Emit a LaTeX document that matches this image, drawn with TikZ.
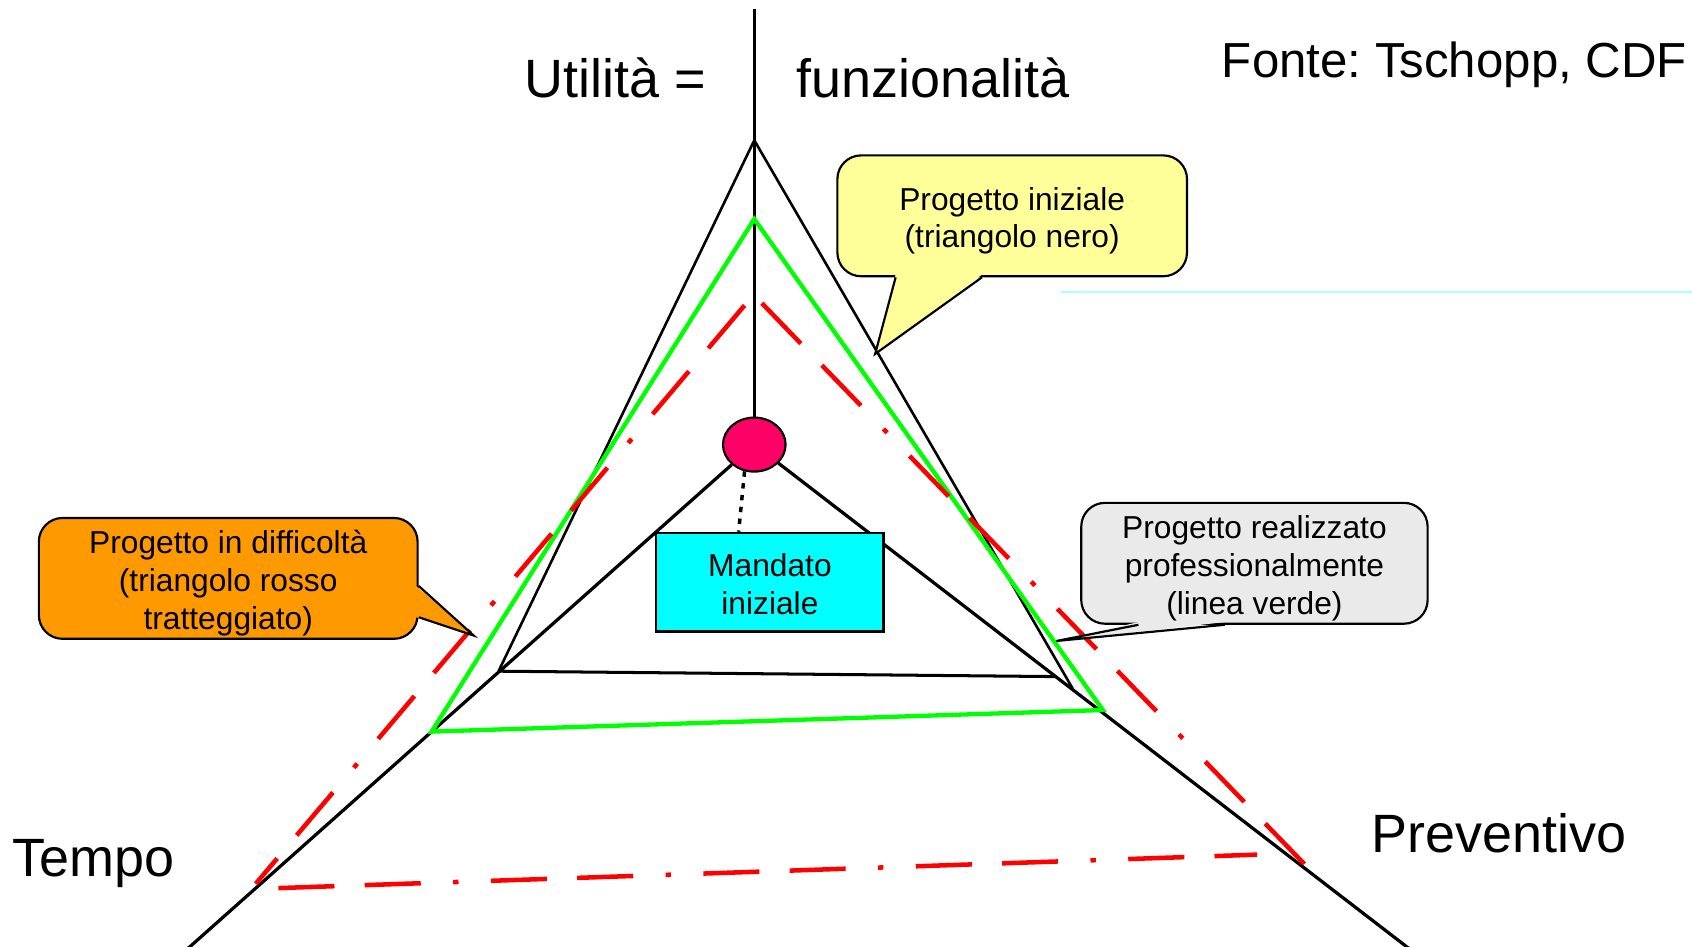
\documentclass[tikz,border=0pt]{standalone}
\usepackage{fontspec}
\setmainfont{Liberation Sans}
\usetikzlibrary{shapes.geometric,calc}
\definecolor{cyel}{RGB}{255,255,153}
\definecolor{corange}{RGB}{255,153,0}
\definecolor{cgrey}{RGB}{234,234,234}
\definecolor{ccyan}{RGB}{0,255,255}
\definecolor{cpink}{RGB}{255,0,102}
\definecolor{cgreen}{RGB}{0,255,0}
\definecolor{cred}{RGB}{255,0,0}
\definecolor{cfaint}{RGB}{170,255,255}
\newcommand{\mystrut}{\rule{0pt}{15.2pt}}
\newcommand{\mystrutb}{\rule{0pt}{12.6pt}}
\tikzset{
  axisline/.style={black, line width=1.5pt},
  blacktri/.style={black, line width=1.2pt},
  greentri/.style={cgreen, line width=2pt, line join=miter},
  redtri/.style={cred, line width=2.1pt, dash pattern=on 26pt off 14pt on 26pt off 15pt on 2.5pt off 15pt},
  bigtext/.style={inner sep=0pt, anchor=base west, font=\fontsize{25}{29}\selectfont},
  callbox/.style={draw=black, line width=1pt, rounded corners=11pt, align=center, inner sep=0pt,
    minimum height=56pt, font=\fontsize{14.7}{17.5}\selectfont},
  tailedge/.style={draw=black, line width=1pt, line join=miter},
  dotline/.style={black, line width=1.6pt, dash pattern=on 2.5pt off 3pt}
}
\frenchspacing
\begin{document}
\begin{tikzpicture}[x=0.5pt,y=-0.5pt]
\useasboundingbox (0,0) rectangle (1568,877);
\fill[white] (0,0) rectangle (1568,877);

% faint line
\draw[cfaint, line width=0.6pt] (983,270.5) -- (1568,270.5);

% centre (origin) marker
\node[ellipse, draw=black, line width=1pt, fill=cpink, minimum width=29pt, minimum height=25pt, inner sep=0pt] (circ) at (699,412) {};

% axes
\coordinate (ytop) at (699,8);
\coordinate (tend) at (173,880);
\coordinate (pend) at (1307,880);
\draw[axisline] (ytop) -- (circ);
\draw[axisline] (circ) -- (tend);
\draw[axisline] (circ) -- (pend);

% black triangle (initial project)
\coordinate (ba) at (699,130);
\coordinate (bl) at (462,622);
\coordinate (br) at (994,638);
\coordinate (bbr) at (978,627);
\draw[blacktri] (bl) -- (ba) -- (br);
\draw[blacktri, line width=1.4pt] (bl) -- (bbr);

% green triangle
\coordinate (ga) at (699,203);
\coordinate (gl) at (400,678);
\coordinate (gr) at (1022,658);
\draw[greentri] (ga) -- (gl) -- (gr) -- cycle;

% red dash-dot triangle
\coordinate (ral) at (690,283);
\coordinate (rbl) at (237,819);
\coordinate (rar) at (706,281);
\coordinate (rbr) at (1210,802);
\coordinate (rb1) at (258,823);
\coordinate (rb2) at (1165,792);
\draw[redtri] (ral) -- (rbl);
\draw[redtri] (rar) -- (rbr);
\draw[redtri] (rb1) -- (rb2);

% Mandato box
\node[draw=black, line width=1.2pt, fill=ccyan, minimum width=105.5pt, minimum height=45.5pt, inner sep=0pt,
  align=center, font=\fontsize{14.7}{17.5}\selectfont] (mand) at (713.5,539.5) {\mystrutb Mandato\\iniziale};
\draw[dotline] (circ.250) -- ($(mand.north)+(-29,0)$);

% labels
\node[bigtext] (util) at (486,90) {Utilità =};
\node[bigtext] (funz) at (738,90) {funzionalità};
\node[inner sep=0pt, anchor=base west, font=\fontsize{22.8}{26}\selectfont] (fonte) at (1132,72) {Fonte: Tschopp, CDF};
\node[bigtext] (tempo) at (11,812) {Tempo};
\node[bigtext] (prev) at (1271,790) {Preventivo};

% yellow callout
\node[callbox, fill=cyel, minimum width=162pt] (yel) at (938,200) {\mystrut Progetto iniziale\\(triangolo nero)};
\coordinate (ytip) at (811,328);
\fill[cyel] ($(yel.south west)+(55,-2.5)$) -- (ytip) -- ($(yel.south west)+(135,-2.5)$) -- cycle;
\draw[tailedge] ($(yel.south west)+(55,0)$) -- (ytip) -- ($(yel.south west)+(135,0)$);

% orange callout
\node[callbox, fill=corange, minimum width=175.5pt] (ora) at (211.5,536) {\mystrut Progetto in difficoltà\\(triangolo rosso\\tratteggiato)};
\coordinate (otip) at (439,589);
\fill[corange] ($(ora.north east)+(-2.5,64)$) -- (otip) -- ($(ora.north east)+(-2.5,93)$) -- cycle;
\draw[tailedge] ($(ora.north east)+(0,64)$) -- (otip) -- ($(ora.north east)+(0,93)$);

% grey callout
\node[callbox, fill=cgrey, minimum width=160.5pt] (gry) at (1162.5,522) {\mystrut Progetto realizzato\\professionalmente\\(linea verde)};
\coordinate (gtip) at (979,594);
\fill[cgrey] ($(gry.south west)+(54,-2.5)$) -- (gtip) -- ($(gry.south west)+(134,-2.5)$) -- cycle;
\draw[tailedge] ($(gry.south west)+(54,0)$) -- (gtip) -- ($(gry.south west)+(134,0)$);
\end{tikzpicture}
\end{document}
